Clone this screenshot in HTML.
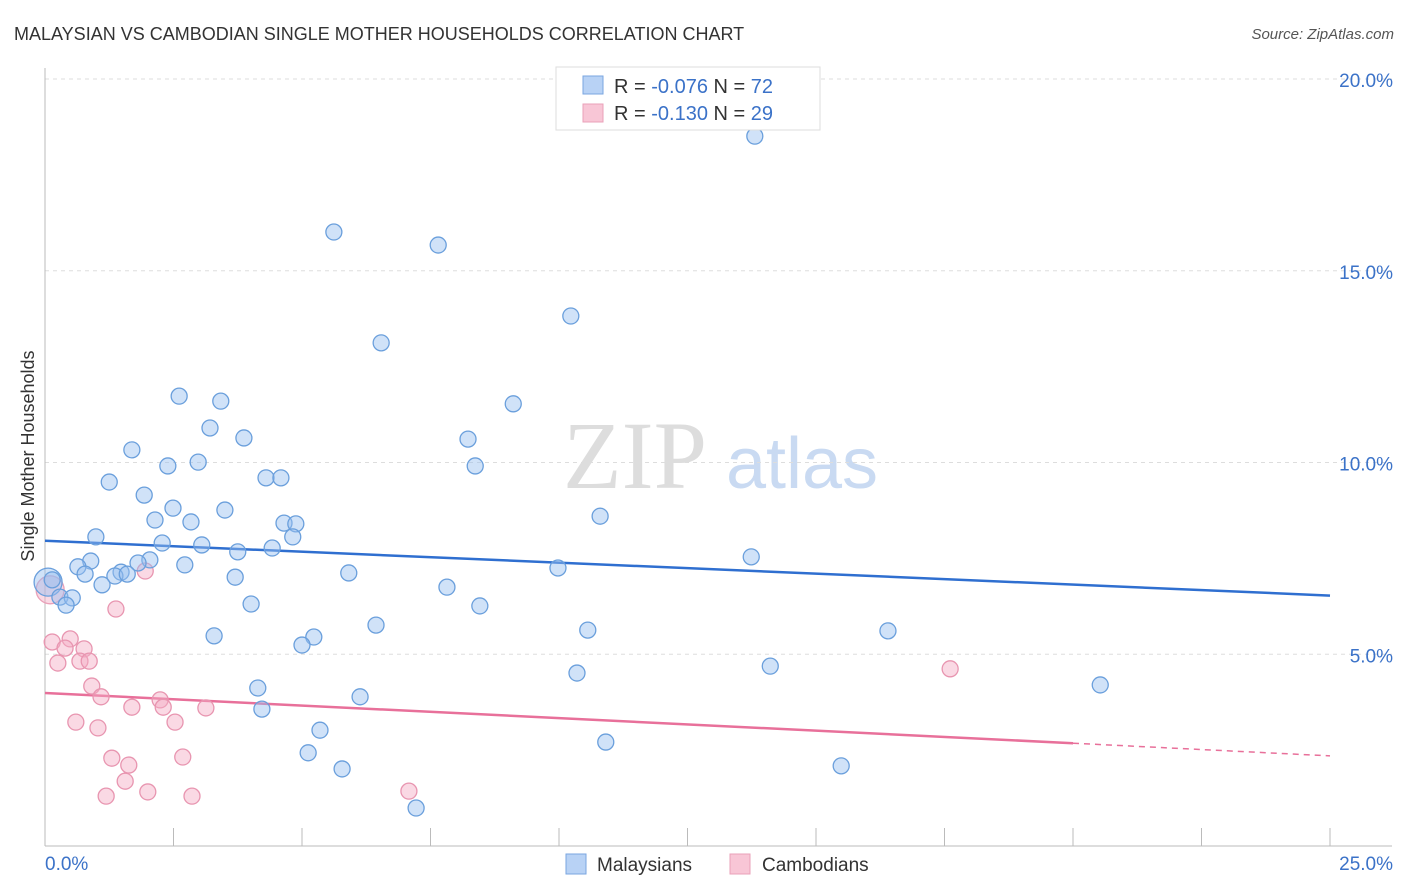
<!DOCTYPE html>
<html><head><meta charset="utf-8"><style>
body{margin:0;background:#fff;font-family:"Liberation Sans",sans-serif}
#wrap{position:relative;width:1406px;height:892px;overflow:hidden}
</style></head><body>
<div id="wrap">
<svg id="svg" width="1406" height="892" xmlns="http://www.w3.org/2000/svg">
<text x="14" y="40" font-size="18" fill="#333">MALAYSIAN VS CAMBODIAN SINGLE MOTHER HOUSEHOLDS CORRELATION CHART</text>
<text x="1394" y="39" font-size="15" fill="#555" text-anchor="end" font-style="italic">Source: ZipAtlas.com</text>
<text x="0" y="0" transform="translate(34,456) rotate(-90)" font-size="18" fill="#333" text-anchor="middle">Single Mother Households</text>
<g><text x="635" y="488" font-size="96" font-family="Liberation Serif,serif" fill="#ddd" text-anchor="middle">ZIP</text><text x="802" y="488" font-size="72" fill="#c9daf2" text-anchor="middle">atlas</text></g>
<g id="grid"></g><g id="axes"></g><g id="lines"></g><g id="pts"></g>
<g>
<rect x="556" y="67" width="264" height="63" fill="#fff" stroke="#ddd"/>
<rect x="583" y="76" width="20" height="18" fill="#b8d2f5" stroke="#7aa6e0"/>
<rect x="583" y="104" width="20" height="18" fill="#f8c6d6" stroke="#eaa0b8"/>
<text x="614" y="93" font-size="20" fill="#333">R = <tspan fill="#3b72c8">-0.076</tspan>   N = <tspan fill="#3b72c8">72</tspan></text>
<text x="614" y="120" font-size="20" fill="#333">R =  <tspan fill="#3b72c8">-0.130</tspan>   N = <tspan fill="#3b72c8">29</tspan></text>
</g>
<g>
<rect x="566" y="854" width="20" height="20" fill="#b8d2f5" stroke="#7aa6e0"/>
<text x="597" y="871" font-size="19" fill="#333">Malaysians</text>
<rect x="730" y="854" width="20" height="20" fill="#f8c6d6" stroke="#eaa0b8"/>
<text x="762" y="871" font-size="19" fill="#333">Cambodians</text>
</g>
</svg></div>
<script>
const xTicks=[0,2.5,5,7.5,10,12.5,15,17.5,20,22.5,25];
const yTicks=[5,10,15,20];
const yTickLabels=["5.0%","10.0%","15.0%","20.0%"];
const malX=[13.81,5.62,7.65,10.23,6.54,2.61,3.42,9.11,3.21,3.87,8.23,1.69,2.39,2.98,8.37,1.25,4.30,4.59,1.93,2.49,3.50,2.14,2.84,4.65,4.88,10.80,0.99,4.82,2.28,3.05,3.75,4.42,13.74,0.89,2.04,1.81,2.72,0.64,1.48,1.36,0.78,1.60,5.91,9.98,3.70,0.14,1.11,7.82,0.29,0.53,0.41,4.01,8.46,6.44,10.56,16.40,3.29,5.23,5.00,14.11,10.35,20.53,4.14,6.13,4.22,5.35,10.91,5.12,5.78,15.49,7.22];
const malY=[18.51,16.01,15.67,13.82,13.12,11.73,11.60,11.53,10.90,10.64,10.61,10.33,9.91,10.01,9.91,9.49,9.60,9.60,9.15,8.81,8.76,8.50,8.45,8.42,8.40,8.60,8.06,8.06,7.90,7.85,7.67,7.77,7.54,7.43,7.46,7.38,7.33,7.28,7.14,7.04,7.09,7.09,7.12,7.25,7.01,6.94,6.81,6.75,6.49,6.47,6.28,6.31,6.26,5.76,5.63,5.61,5.48,5.45,5.24,4.69,4.51,4.20,4.12,3.89,3.57,3.02,2.71,2.43,2.01,2.09,0.99];
const camX=[1.38,1.95,0.14,0.49,0.39,0.76,0.25,0.68,0.86,0.91,1.09,2.24,2.30,1.69,2.53,3.13,0.60,1.03,1.30,1.63,2.68,1.56,2.00,1.19,2.86,7.08,17.61];
const camY=[6.18,7.17,5.32,5.40,5.16,5.14,4.77,4.82,4.82,4.17,3.89,3.81,3.62,3.62,3.23,3.60,3.23,3.08,2.29,2.11,2.32,1.69,1.41,1.30,1.30,1.43,4.62];
const bigMal=[0.06,6.88], bigCam=[0.10,6.68];
const malTrend=[7.96,6.53], camTrend=[3.99,2.68,2.35];
const X=v=>45+v*51.4, Y=v=>846-v*38.35;
const NS="http://www.w3.org/2000/svg";
function mk(p,t,a){const e=document.createElementNS(NS,t);for(const k in a)e.setAttribute(k,a[k]);p.appendChild(e);return e;}
const grid=document.getElementById('grid'),axes=document.getElementById('axes'),lines=document.getElementById('lines'),pts=document.getElementById('pts');
yTicks.forEach((t,i)=>{const l=mk(grid,'line',{x1:45,x2:1392,y1:Y(t),y2:Y(t),stroke:'#ddd','stroke-dasharray':'4,4'});

const tx=mk(axes,'text',{x:1393,y:Y(t)+8,'font-size':19,fill:'#3b72c8','text-anchor':'end'});tx.textContent=yTickLabels[i];
});
mk(axes,'line',{x1:45,x2:45,y1:68,y2:846,stroke:'#bbb'});
mk(axes,'line',{x1:45,x2:1392,y1:846,y2:846,stroke:'#bbb'});
xTicks.forEach(t=>{const l=mk(axes,'line',{x1:X(t),x2:X(t),y1:828,y2:846,stroke:'#bbb'});});
let a=mk(axes,'text',{x:45,y:870,'font-size':19,fill:'#3b72c8'});a.textContent='0.0%';
a=mk(axes,'text',{x:1393,y:870,'font-size':19,fill:'#3b72c8','text-anchor':'end'});a.textContent='25.0%';
let tl=mk(lines,'line',{x1:X(0),y1:Y(malTrend[0]),x2:X(25),y2:Y(malTrend[1]),stroke:'#2f6fd0','stroke-width':2.5});
tl=mk(lines,'line',{x1:X(0),y1:Y(camTrend[0]),x2:X(20),y2:Y(camTrend[1]),stroke:'#e8709a','stroke-width':2.5});
tl=mk(lines,'line',{x1:X(20),y1:Y(camTrend[1]),x2:X(25),y2:Y(camTrend[2]),stroke:'#e8709a','stroke-width':1.5,'stroke-dasharray':'6,5'});
function dot(x,y,r,fill,st,name){const c=mk(pts,'circle',{cx:X(x),cy:Y(y),r:r,fill:fill,stroke:st,'stroke-width':1.3});}
dot(bigCam[0],bigCam[1],14,'rgba(245,170,196,0.45)','#eaa0b8','cambodian-point');
camX.forEach((x,i)=>dot(x,camY[i],8,'rgba(245,170,196,0.45)','#e895b0','cambodian-point'));
dot(bigMal[0],bigMal[1],14,'rgba(150,190,240,0.45)','#6a9fdc','malaysian-point');
malX.forEach((x,i)=>dot(x,malY[i],8,'rgba(150,190,240,0.45)','#6a9fdc','malaysian-point'));
</script>
</body></html>
